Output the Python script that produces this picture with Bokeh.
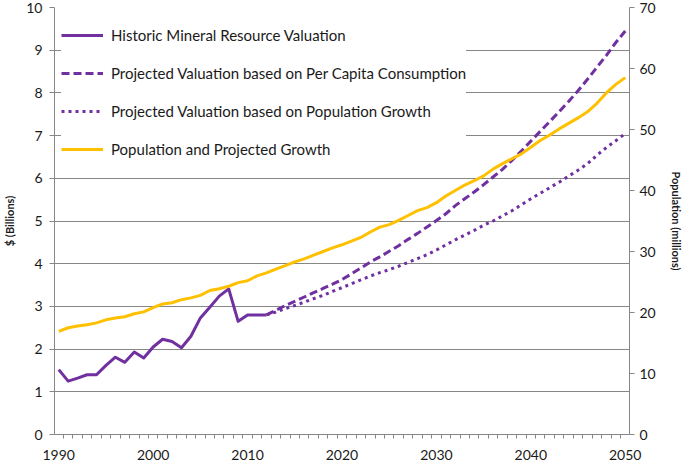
from bokeh.plotting import figure
from bokeh.models import Range1d, LinearAxis, FixedTicker, Legend, LegendItem
from bokeh.embed import file_html
from bokeh.resources import INLINE

# ---- data ----
years_hist = list(range(1990, 2013))
hist_val = [1.52, 1.25, 1.32, 1.40, 1.40, 1.62, 1.81, 1.69, 1.93, 1.79, 2.05, 2.23,
            2.18, 2.03, 2.30, 2.73, 2.98, 3.24, 3.41, 2.65, 2.80, 2.80, 2.80]

years_proj = list(range(2012, 2051))
percap_val = [2.80, 2.91, 3.02, 3.12, 3.22, 3.32, 3.42, 3.52, 3.63, 3.76, 3.90, 4.04,
              4.16, 4.29, 4.42, 4.57, 4.71, 4.86, 5.01, 5.17, 5.36, 5.52, 5.68, 5.85,
              6.03, 6.21, 6.42, 6.64, 6.87, 7.10, 7.33, 7.56, 7.80, 8.05, 8.32, 8.60,
              8.88, 9.18, 9.45]
popgrowth_val = [2.80, 2.87, 2.95, 3.02, 3.10, 3.18, 3.26, 3.35, 3.44, 3.53, 3.62, 3.71,
                 3.79, 3.86, 3.94, 4.03, 4.12, 4.21, 4.32, 4.44, 4.56, 4.67, 4.78, 4.90,
                 5.00, 5.12, 5.24, 5.38, 5.52, 5.65, 5.78, 5.91, 6.05, 6.19, 6.34, 6.54,
                 6.72, 6.88, 7.05]

years_pop = list(range(1990, 2051))
population = [16.9, 17.5, 17.8, 18.0, 18.3, 18.8, 19.1, 19.3, 19.8, 20.1, 20.8, 21.4,
              21.6, 22.1, 22.4, 22.8, 23.6, 23.9, 24.3, 24.9, 25.2, 26.0, 26.5, 27.1,
              27.7, 28.3, 28.8, 29.4, 30.0, 30.6, 31.1, 31.7, 32.3, 33.2, 34.0, 34.4,
              35.1, 35.9, 36.7, 37.2, 38.0, 39.1, 40.0, 40.9, 41.6, 42.4, 43.5, 44.4,
              45.2, 46.0, 47.1, 48.2, 49.1, 50.1, 51.0, 51.9, 52.9, 54.3, 56.0, 57.4,
              58.5]

x_labels = [1990, 2000, 2010, 2020, 2030, 2040, 2050]
left_ticks = list(range(0, 11))
right_ticks = list(range(0, 71, 10))

labels = ["Historic Mineral Resource Valuation",
          "Projected Valuation based on Per Capita Consumption",
          "Projected Valuation based on Population Growth",
          "Population and Projected Growth"]

PURPLE = "#7030A0"
GOLD = "#FFC000"
GRID = "#868686"
TEXT = "#1a1a1a"
FONT = "Lato"

p = figure(width=685, height=462, output_backend="svg", toolbar_location=None,
           x_range=Range1d(1989.55, 2050.45), y_range=Range1d(0, 10),
           min_border_left=50, min_border_right=52, min_border_top=7,
           min_border_bottom=28)
p.outline_line_color = None
p.extra_y_ranges = {"pop": Range1d(0, 70)}

# x axis
xa = p.xaxis[0]
xa.ticker = FixedTicker(ticks=x_labels, minor_ticks=[1989.5 + i for i in range(62)])
xa.major_tick_out = 0
xa.major_tick_in = 0
xa.minor_tick_out = 4
xa.minor_tick_in = 0
xa.minor_tick_line_color = GRID
xa.axis_line_color = GRID
xa.major_label_text_font = FONT
xa.major_label_text_font_size = "14px"
xa.major_label_text_color = TEXT
xa.major_label_standoff = 11

# left axis
ya = p.yaxis[0]
ya.ticker = FixedTicker(ticks=left_ticks)
ya.major_tick_out = 5
ya.major_tick_in = 0
ya.minor_tick_out = 0
ya.minor_tick_in = 0
ya.major_tick_line_color = GRID
ya.axis_line_color = GRID
ya.major_label_text_font = FONT
ya.major_label_text_font_size = "14px"
ya.major_label_text_color = TEXT
ya.major_label_standoff = 7
ya.axis_label = "$ (Billions)"
ya.axis_label_text_font = FONT
ya.axis_label_text_font_style = "bold"
ya.axis_label_text_font_size = "11px"
ya.axis_label_text_color = TEXT
ya.axis_label_standoff = 7

# right axis
ra = LinearAxis(y_range_name="pop", ticker=FixedTicker(ticks=right_ticks),
                axis_label="Population (millions)")
ra.major_tick_out = 5
ra.major_tick_in = 0
ra.minor_tick_out = 0
ra.minor_tick_in = 0
ra.major_tick_line_color = GRID
ra.axis_line_color = GRID
ra.major_label_text_font = FONT
ra.major_label_text_font_size = "14px"
ra.major_label_text_color = TEXT
ra.major_label_standoff = 5
ra.axis_label_text_font = FONT
ra.axis_label_text_font_style = "bold"
ra.axis_label_text_font_size = "11px"
ra.axis_label_text_color = TEXT
ra.axis_label_standoff = 11
p.add_layout(ra, "right")

# grid
p.xgrid.grid_line_color = None
p.ygrid.ticker = FixedTicker(ticks=left_ticks)
p.ygrid.grid_line_color = GRID
p.ygrid.grid_line_width = 1

# lines
r1 = p.line(years_hist, hist_val, line_color=PURPLE, line_width=3, line_join="round")
r2 = p.line(years_proj, percap_val, line_color=PURPLE, line_width=3, line_dash="8 4")
r3 = p.line(years_proj, popgrowth_val, line_color=PURPLE, line_width=3, line_dash="3 4")
r4 = p.line(years_pop, population, y_range_name="pop", line_color=GOLD, line_width=3,
            line_join="round")

legend = Legend(items=[LegendItem(label=labels[0], renderers=[r1]),
                       LegendItem(label=labels[1], renderers=[r2]),
                       LegendItem(label=labels[2], renderers=[r3]),
                       LegendItem(label=labels[3], renderers=[r4])],
                location="top_left", background_fill_color="white",
                background_fill_alpha=1.0, border_line_color=None,
                title=" ", title_text_font_size="6px", title_standoff=2,
                label_text_font=FONT, label_text_font_size="15px",
                label_text_color=TEXT,
                glyph_width=42, glyph_height=26, label_height=26, spacing=12,
                padding=15, margin=7, label_standoff=8)
p.add_layout(legend)

open("out.html", "w").write(file_html(p, INLINE))
